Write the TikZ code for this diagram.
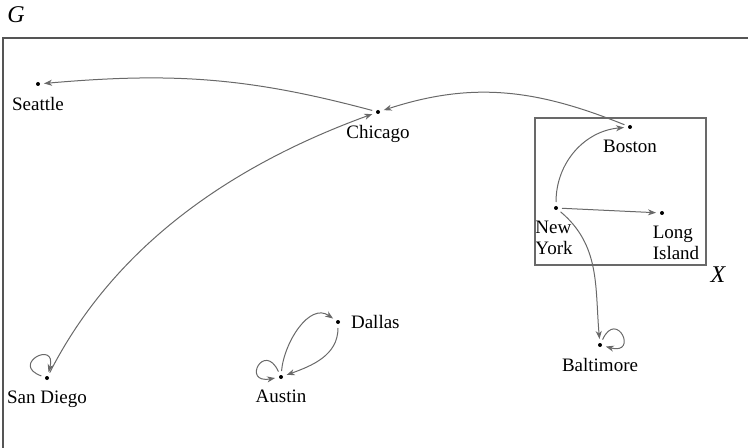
\documentclass[tikz,border=0pt]{standalone}
\usepackage{fontspec}
\setmainfont{Liberation Serif}
\usetikzlibrary{arrows.meta}

\definecolor{edgegray}{RGB}{105,105,105}
\definecolor{framegray}{RGB}{85,85,85}

\begin{document}
\begin{tikzpicture}[x=0.5pt, y=0.5pt,
    city/.style={circle, fill=black, minimum size=2pt, inner sep=0pt,
        outer sep=2pt, label distance=0.5pt},
    edge/.style={draw=edgegray, line width=0.5pt,
        -{Stealth[length=4pt, width=3pt, inset=1.2pt]}},
    selfloop/.style={edge, min distance=17pt},
    every label/.style={align=left, font=\fontsize{9.5}{10.5}\selectfont}]

    \useasboundingbox (0,0) rectangle (748,-448);

    % outer frame of G (runs off the page on the right and below)
    \draw[framegray, line width=1pt] (760,-38) -- (3,-38) -- (3,-460);
    \node[font=\fontsize{12}{13}\selectfont\itshape] (Glab) at (16,-15) {G};

    % the cities
    \node[city, label=below:Seattle] (sea) at (38,-84) {};
    \node[city, label=below:Chicago] (chi) at (378,-112) {};
    \node[city, label=below:Boston] (bos) at (630,-127) {};
    \node[city, label={[xshift=-1pt]below:New\\York}] (ny) at (556,-208) {};
    \node[city, label={[xshift=7pt]below:Long\\Island}] (li) at (662,-213) {};
    \node[city, label=below:Baltimore] (bal) at (600,-345) {};
    \node[city, label=below:San Diego] (sd) at (47,-378) {};
    \node[city, label=below:Austin] (aus) at (281,-377) {};
    \node[city, label=right:Dallas] (dal) at (338,-322) {};

    % subset X
    \draw[edgegray, line width=0.6pt] (535,-118) rectangle (706,-265);
    \node[font=\fontsize{12}{13}\selectfont\itshape] (Xlab) at (718,-275) {X};

    % long edges
    \draw[edge] (chi) to[out=165, in=5] (sea);
    \draw[edge] (bos) to[out=158, in=18] (chi);
    \draw[edge] (sd) to[out=63, in=200, looseness=0.9] (chi);

    % edges leaving New York
    \draw[edge] (ny) to[out=90, in=185] (bos);
    \draw[edge] (ny) -- (li);
    \draw[edge] (ny) to[out=-40, in=95] (bal);

    % Austin and Dallas
    \draw[edge] (aus) to[out=85, in=145] (dal);
    \draw[edge] (dal) to[out=-90, in=20] (aus);

    % self loops
    \draw[selfloop] (sd) to[out=160, in=75] (sd);
    \draw[selfloop] (aus) to[out=115, in=190] (aus);
    \draw[selfloop] (bal) to[out=65, in=-15] (bal);

\end{tikzpicture}
\end{document}
